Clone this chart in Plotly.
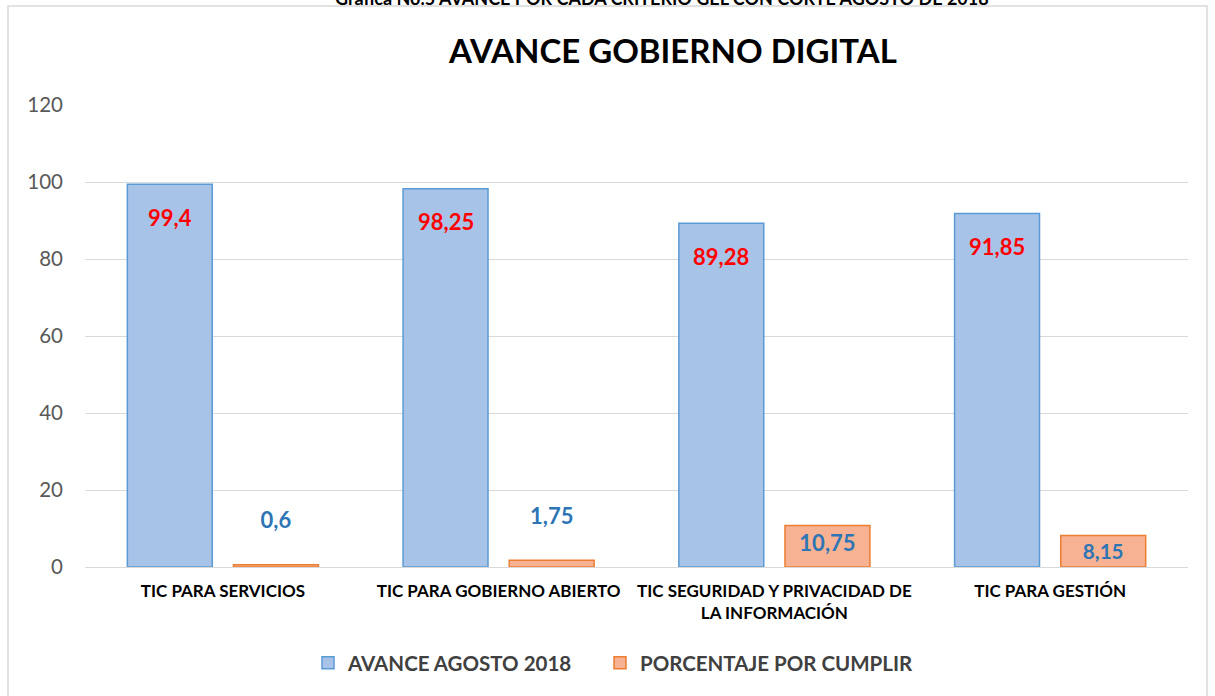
import plotly.graph_objects as go

categories = ["TIC PARA SERVICIOS", "TIC PARA GOBIERNO ABIERTO",
              "TIC SEGURIDAD Y PRIVACIDAD DE<br>LA INFORMACIÓN", "TIC PARA GESTIÓN"]
avance = [99.4, 98.25, 89.28, 91.85]
por_cumplir = [0.6, 1.75, 10.75, 8.15]
series_names = ["AVANCE AGOSTO 2018", "PORCENTAJE POR CUMPLIR"]
y_ticks = [0, 20, 40, 60, 80, 100, 120]

def fmt(v):
    return f"{v:g}".replace(".", ",")

W, H = 1215, 696
ML, MR, MT, MB = 85, 27, 105, 129
pw, ph = W - ML - MR, H - MT - MB
BARGAP, GROUPGAP = 0.23, 0.2

def px_x(p):
    return (p - ML) / pw

def px_y(p):
    return (H - MB - p) / ph

FONT = "Lato"
SPACER = '<span style="color:rgba(0,0,0,0)">.</span>'

# horizontal offset of the first bar of each group from the category centre
cat_w = pw / len(categories)
slot_offset = cat_w * (1 - BARGAP) / 4

fig = go.Figure()
fig.add_trace(go.Bar(
    x=categories, y=avance, name=series_names[0], legend="legend",
    marker=dict(color="#a7c3e7", line=dict(color="#5b9bd5", width=1.5)),
))
fig.add_trace(go.Bar(
    x=categories, y=por_cumplir, name=series_names[1], legend="legend2",
    marker=dict(color="#f6b293", line=dict(color="#ed7d31", width=1.5)),
    text=[fmt(v) for v in por_cumplir],
    texttemplate=["%{text}<br>" + SPACER if v < 5 else "%{text}" for v in por_cumplir],
    textposition=["outside" if v < 5 else "inside" for v in por_cumplir],
    insidetextanchor="end",
    textfont=dict(family=FONT, size=22, color="#2e75b6", weight="bold"),
    cliponaxis=False,
))

annotations = [
    dict(text=fmt(v), x=c, y=v, xref="x", yref="y", xshift=-slot_offset,
         yshift=-33, yanchor="middle", xanchor="center", showarrow=False,
         font=dict(family=FONT, size=22, color="#ff0000", weight="bold"))
    for c, v in zip(categories, avance)
]
annotations += [
    dict(text="<b>AVANCE GOBIERNO DIGITAL</b>", xref="paper", yref="paper",
         x=px_x(672), y=px_y(50), xanchor="center", yanchor="middle",
         showarrow=False, font=dict(family=FONT, size=33, color="#000000")),
    dict(text="Gráfica No.5 AVANCE POR CADA CRITERIO GEL CON CORTE AGOSTO DE 2018",
         xref="paper", yref="paper", x=px_x(662), y=px_y(-2),
         xanchor="center", yanchor="middle", showarrow=False,
         font=dict(family=FONT, size=18, color="#000000", weight="bold")),
]

legend_font = dict(family=FONT, size=20.5, color="#404040", weight="bold")
fig.update_layout(
    width=W, height=H,
    margin=dict(l=ML, r=MR, t=MT, b=MB),
    paper_bgcolor="white", plot_bgcolor="white",
    barmode="group", bargap=BARGAP, bargroupgap=GROUPGAP,
    font=dict(family=FONT),
    showlegend=True,
    legend=dict(orientation="h", x=px_x(308), xanchor="left",
                y=px_y(663), yanchor="middle", font=legend_font, itemwidth=30),
    legend2=dict(orientation="h", x=px_x(600), xanchor="left",
                 y=px_y(663), yanchor="middle", font=legend_font, itemwidth=30),
    annotations=annotations,
    shapes=[
        dict(type="rect", xref="paper", yref="paper",
             x0=px_x(8), x1=px_x(1207), y0=px_y(6), y1=px_y(710),
             line=dict(color="#d9d9d9", width=1.5), fillcolor="rgba(0,0,0,0)",
             layer="below"),
    ],
)
fig.update_yaxes(range=[0, 120], tickvals=y_ticks, showgrid=True,
                 gridcolor="#d9d9d9", gridwidth=1, zeroline=True,
                 zerolinecolor="#d9d9d9", zerolinewidth=1, showline=False,
                 ticks="", ticklabelstandoff=21,
                 tickfont=dict(family=FONT, size=20.5, color="#595959"))
fig.update_xaxes(showgrid=False, showline=False, ticks="",
                 ticklabelstandoff=12,
                 tickfont=dict(family=FONT, size=17, color="#000000", weight="bold"))

fig.write_html("out.html", config={"displayModeBar": False},
               post_script="document.body.style.margin='0';document.body.style.overflow='hidden';")
